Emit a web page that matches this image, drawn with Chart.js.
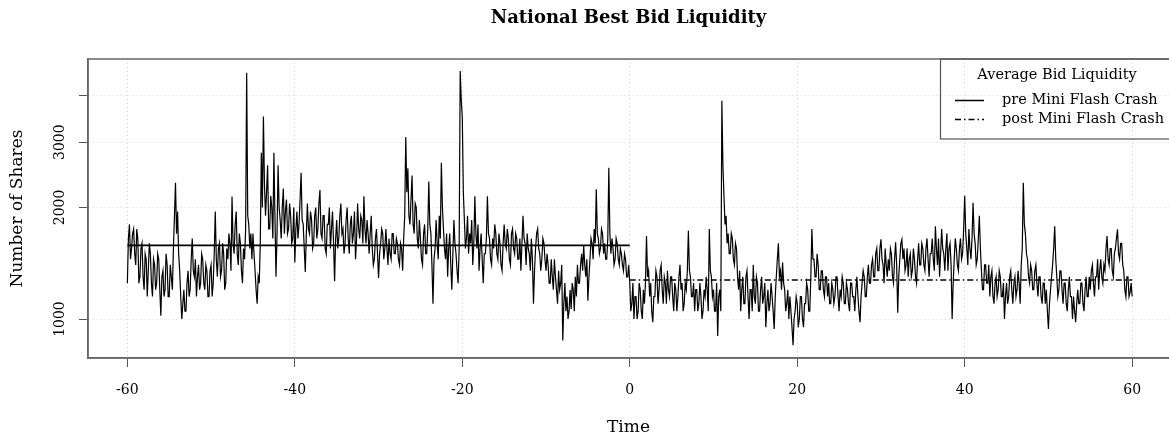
<!DOCTYPE html>
<html><head><meta charset="utf-8">
<script src="https://cdn.jsdelivr.net/npm/chart.js@4/dist/chart.umd.min.js"></script>
<style>html,body{margin:0;padding:0;background:#fff;}</style>
</head><body>
<canvas id="c" width="1169" height="441"></canvas>
<script>
const chartTitle = 'National Best Bid Liquidity';
const xAxisTitle = 'Time';
const yAxisTitle = 'Number of Shares';
const xTickValues = [-60, -40, -20, 0, 20, 40, 60];
const yTickValues = [1000, 2000, 3000, 4000];
const yTickLabels = ['1000', '2000', '3000', ''];
const legendTitle = 'Average Bid Liquidity';
const meanLabels = ['pre Mini Flash Crash', 'post Mini Flash Crash'];
const preStart = -60, postStart = 0, timeStep = 0.125;

// bid liquidity, 8 readings per minute, minutes -60 .. -0.125 (one row = one minute)
const preCrashLiquidity = [
1250,1650,1800,1450,1550,1700,1750,1500,
1400,1750,1650,1250,1300,1550,1600,1300,
1200,1500,1450,1150,1350,1600,1500,1250,
1150,1450,1400,1200,1250,1500,1450,1200,
1020,1300,1350,1150,1200,1500,1400,1150,
1150,1400,1300,1200,1550,1900,2330,1700,
1950,1500,1350,1150,1000,1100,1200,1050,
1050,1250,1350,1150,1200,1450,1650,1350,
1300,1450,1150,1300,1400,1200,1250,1500,
1450,1250,1200,1400,1350,1150,1150,1350,
1400,1150,1250,1500,1950,1450,1300,1550,
1600,1300,1350,1600,1500,1200,1250,1550,
1450,1700,1600,1350,2140,1600,1500,1800,
1950,1500,1400,1700,1600,1350,1250,1550,
1450,1750,4620,1900,1800,1550,1700,1450,
1700,1500,1350,1200,1100,1300,1250,1600,
2810,2000,3520,2300,1900,2200,2600,1750,
1750,2150,2000,1650,2810,1900,1300,1700,
2600,2000,1850,1650,2000,2250,1700,1950,
2100,1700,1750,2050,1900,1600,1650,2000,
1420,1750,1950,1650,1800,2100,2480,1850,
1800,1550,1340,1700,2050,1750,1700,1950,
1850,1550,1600,1900,2000,1650,1750,2050,
2230,1700,1650,1900,1900,1550,1500,1800,
1800,2000,1550,1750,1950,1600,1265,1650,
1850,1550,1650,1900,2050,1700,1750,1500,
1600,1850,2000,1650,1500,1800,1900,1600,
1700,1950,1450,1650,2050,1750,1650,1900,
1850,1600,2145,1750,1600,1850,1700,1500,
1700,1900,1550,1400,1450,1650,1750,1500,
1290,1500,1600,1750,1700,1450,1550,1750,
1550,1400,1650,1500,1450,1700,1700,1500,
1500,1650,1600,1450,1400,1600,1550,1350,
1650,1900,3100,2200,2550,1900,1800,2100,
2440,1800,1700,2050,2000,1650,1550,1850,
1650,1450,1400,1700,1800,1500,1500,1750,
2350,1800,1700,1400,1100,1450,1550,1850,
1600,1450,1900,1650,2640,2000,1750,1550,
1450,1700,1300,1550,1700,1400,1200,1500,
1850,1600,1500,1350,1250,1550,4670,3900,
3500,2200,1850,1550,1650,1900,1500,1700,
1600,1850,1400,1600,2145,1700,1550,1800,
1350,1550,1700,1450,1250,1500,1500,1650,
2145,1700,1650,1450,1400,1650,1550,1800,
1700,1500,1450,1700,1600,1400,1350,1600,
1800,1600,1550,1750,1650,1450,1400,1700,
1750,1550,1500,1700,1650,1450,1450,1650,
1350,1600,1900,1650,1600,1400,1700,1550,
1500,1350,1650,1450,1100,1350,1550,1700,
1750,1550,1500,1350,1450,1650,1600,1450,
1350,1500,1400,1250,1250,1450,1300,1200,
1450,1300,1200,1100,1350,1200,1250,1400,
875,1100,1250,1050,1150,1000,1050,1200,
1064,1250,1200,1050,1300,1150,1400,1250,
1250,1400,1500,1350,1575,1400,1300,1450,
1120,1300,1450,1650,1600,1450,1750,1600,
2240,1700,1650,1500,1550,1750,1700,1500,
1600,1450,1450,1650,2560,1700,1500,1650,
1550,1400,1450,1650,1600,1450,1400,1550,
1500,1400,1350,1500,1450,1300,1300,1400
];
// bid liquidity, 8 readings per minute, minutes 0 .. 60 (one row = one minute)
const postCrashLiquidity = [
1250,1050,1100,1250,1000,1150,1150,1000,
1050,1250,1200,1050,1000,1200,1100,1250,
1675,1300,1350,1150,1250,1050,980,1150,
1150,1350,1300,1100,1200,1350,1400,1200,
1100,1300,1250,1100,1350,1200,1150,1300,
1300,1150,1050,1250,1200,1050,1150,1300,
1400,1200,1250,1050,1100,1250,1200,1350,
1730,1350,1300,1150,1150,1250,1050,1200,
1200,1050,1100,1250,1150,1000,1050,1200,
1150,1300,1200,1050,1750,1350,1300,1150,
1200,1050,1050,1250,900,1150,1200,1050,
3880,2600,2150,1800,1900,1600,1700,1500,
1500,1700,1650,1450,1400,1600,1550,1300,
1200,1350,1050,1200,1300,1100,1100,1300,
1350,1150,1000,1200,1200,1050,1400,1150,
1100,1300,1250,1050,1050,1200,1300,1100,
1150,1250,950,1100,1200,1050,1100,1250,
1150,1050,940,1150,1300,1450,1600,1300,
1350,1200,1420,1250,1200,1050,1100,1200,
1000,1150,1050,950,850,1000,1050,1150,
1100,950,1000,1150,1150,1000,950,1100,
1100,1250,1200,1050,1050,1300,1750,1450,
1450,1300,1300,1500,1400,1200,1200,1350,
1350,1200,1150,1300,1300,1150,1250,1100,
1100,1250,1200,1100,1150,1300,1300,1150,
1050,1200,1150,1300,1250,1100,1100,1250,
1200,1100,1050,1250,1250,1150,1150,1050,
1200,1300,1150,1050,980,1150,1250,1350,
1300,1150,1150,1300,1400,1250,1250,1400,
1450,1300,1300,1500,1550,1350,1350,1550,
1640,1450,1400,1250,1550,1400,1300,1450,
1350,1550,1500,1300,1250,1450,1610,1400,
1040,1300,1450,1600,1640,1450,1550,1350,
1400,1550,1300,1450,1500,1300,1350,1550,
1450,1300,1250,1450,1600,1400,1400,1600,
1550,1400,1350,1550,1650,1450,1300,1500,
1500,1650,1450,1350,1780,1550,1400,1650,
1300,1500,1750,1550,1500,1350,1550,1700,
1350,1550,1600,1400,1000,1250,1450,1650,
1550,1400,1350,1550,1650,1450,1500,1750,
2150,1700,1550,1400,1750,1550,1450,1650,
2060,1700,1600,1400,1450,1650,1900,1550,
1350,1200,1200,1400,1400,1250,1250,1400,
1150,1300,1350,1150,1100,1250,1300,1150,
1200,1350,1300,1150,1150,1250,1000,1150,
1250,1100,1150,1300,1350,1200,1100,1250,
1300,1150,1200,1350,1250,1100,1400,1550,
2330,1800,1700,1500,1450,1300,1250,1400,
1350,1200,1200,1350,1400,1250,1150,1300,
1300,1150,1100,1250,1250,1100,1200,1050,
940,1100,1200,1300,1400,1550,1780,1450,
1300,1150,1200,1350,1350,1200,1100,1250,
1250,1100,1050,1200,1300,1150,1150,1000,
1150,1050,980,1100,1200,1100,1100,1250,
1250,1100,1050,1200,1300,1150,1150,1300,
1200,1350,1400,1250,1150,1300,1300,1450,
1200,1350,1450,1300,1250,1400,1350,1550,
1675,1450,1400,1550,1550,1350,1300,1500,
1550,1650,1746,1500,1450,1600,1600,1400,
1350,1200,1150,1300,1300,1150,1180,1250,
1150
];
const preMean = 1580, postMean = 1275;
const preSpan = [-60, 0], postSpan = [0, 60];

const seriesPoints = preCrashLiquidity.map((v, i) => ({x: preStart + i * timeStep, y: v}))
  .concat(postCrashLiquidity.map((v, i) => ({x: postStart + i * timeStep, y: v})));

const FONT = '"DejaVu Serif", "Liberation Serif", serif';

const boxPlugin = {
  id: 'rBox',
  afterDraw(chart) {
    const a = chart.chartArea, c = chart.ctx;
    c.save();
    c.strokeStyle = '#666'; c.lineWidth = 1.5;
    c.strokeRect(a.left, a.top, a.right - a.left + 3, a.bottom - a.top);
    c.restore();
  }
};

const legendPlugin = {
  id: 'rLegend',
  afterDraw(chart) {
    const c = chart.ctx, a = chart.chartArea;
    const L = 940, T = a.top, B = 139, R = chart.width + 3;
    c.save();
    c.strokeStyle = '#555'; c.lineWidth = 1.2;
    c.strokeRect(L + 0.5, T, R - L, B - T);
    c.fillStyle = '#000';
    c.font = '14.5px ' + FONT;
    c.textBaseline = 'middle';
    c.textAlign = 'center';
    c.fillText(legendTitle, 1057, 75);
    c.textAlign = 'left';
    const rows = [100, 119];
    [0, 1].forEach(i => {
      const ds = chart.data.datasets[i];
      const y = rows[i];
      c.setLineDash(ds.borderDash || []);
      c.lineWidth = 1.5; c.strokeStyle = '#000';
      c.beginPath(); c.moveTo(955, y + 0.5); c.lineTo(984, y + 0.5); c.stroke();
      c.setLineDash([]);
      c.fillText(ds.label, 1002, y);
    });
    c.restore();
  }
};

const gridCommon = {color: '#d2d2d2', lineWidth: 1, tickColor: '#555', tickLength: 9, tickWidth: 1};
const borderCommon = {display: true, color: '#666', width: 1.5, dash: [1, 3]};

new Chart(document.getElementById('c'), {
  type: 'line',
  data: {
    datasets: [
      {label: meanLabels[0], data: preSpan.map(x => ({x, y: preMean})), borderColor: '#000', borderWidth: 1.6, pointRadius: 0},
      {label: meanLabels[1], data: postSpan.map(x => ({x, y: postMean})), borderColor: '#000', borderWidth: 1.6, borderDash: [6, 3, 1.5, 3], pointRadius: 0},
      {label: 'Bid liquidity', data: seriesPoints, borderColor: '#000', borderWidth: 1.2, pointRadius: 0}
    ]
  },
  options: {
    responsive: false, animation: false, devicePixelRatio: 1,
    layout: {padding: 0},
    plugins: {
      legend: {display: false},
      tooltip: {enabled: false},
      title: {display: true, fullSize: false, text: chartTitle, color: '#000',
        font: {family: FONT, size: 18, weight: 'bold'}, padding: {top: 8, bottom: 29.4}}
    },
    scales: {
      x: {
        type: 'linear', min: -64.7, max: 64.4,
        afterBuildTicks: s => { s.ticks = xTickValues.map(v => ({value: v})); },
        afterFit: s => { s.height = 83; },
        grid: gridCommon, border: borderCommon,
        ticks: {font: {family: FONT, size: 14}, color: '#000', padding: 14.5, maxRotation: 0, autoSkip: false,
          callback: v => String(v)},
        title: {display: true, text: xAxisTitle, color: '#000', font: {family: FONT, size: 17}, padding: {top: 0, bottom: 3}}
      },
      y: {
        type: 'logarithmic', min: 785, max: 5030,
        afterBuildTicks: s => { s.ticks = yTickValues.map(v => ({value: v})); },
        afterFit: s => { s.width = 88; },
        grid: gridCommon, border: borderCommon,
        ticks: {font: {family: FONT, size: 14}, color: '#000', padding: 1, minRotation: 90, maxRotation: 90,
          crossAlign: 'center', autoSkip: false,
          callback: v => { const k = yTickValues.indexOf(v); return k >= 0 ? yTickLabels[k] : ''; }},
        title: {display: true, text: yAxisTitle, color: '#000', font: {family: FONT, size: 17}, padding: {top: 7, bottom: 0}}
      }
    }
  },
  plugins: [boxPlugin, legendPlugin]
});
</script>
</body></html>
